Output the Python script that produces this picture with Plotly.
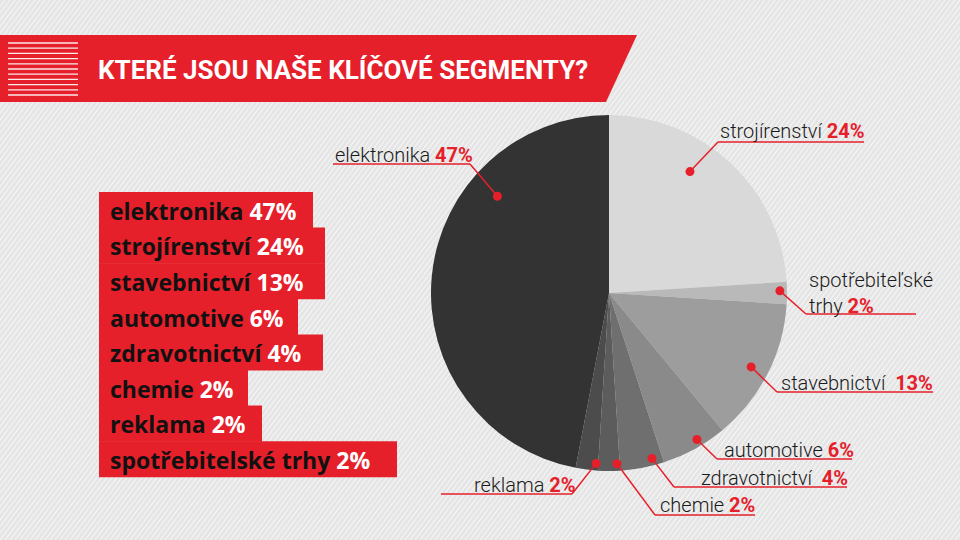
import math
import plotly.graph_objects as go

# ---------------- data ----------------
segments = ["strojírenství", "spotřebitelské trhy", "stavebnictví", "automotive",
            "zdravotnictví", "chemie", "reklama", "elektronika"]
shares = [24, 2, 13, 6, 4, 2, 2, 47]
slice_colors = ["#d9d9d9", "#b9b9b9", "#9d9d9d", "#8a8a8a",
                "#6f6f6f", "#5c5c5c", "#4c4c4c", "#333333"]

list_names = ["elektronika", "strojírenství", "stavebnictví", "automotive",
              "zdravotnictví", "chemie", "reklama", "spotřebitelské trhy"]
list_values = [47, 24, 13, 6, 4, 2, 2, 2]

title_text = "KTERÉ JSOU NAŠE KLÍČOVÉ SEGMENTY?"

RED = "#e5202a"
W, H = 960, 540


def px(x):
    return x / W


def py(y):
    return 1 - y / H


# ---------------- pie geometry ----------------
CX, CY, R = 609, 293, 178

fig = go.Figure()
fig.add_trace(go.Pie(
    labels=segments, values=shares, sort=False, direction="clockwise", rotation=0,
    marker=dict(colors=slice_colors, line=dict(width=0)),
    textinfo="none", hoverinfo="label+percent", showlegend=False,
    domain=dict(x=[px(CX - R), px(CX + R)], y=[py(CY + R), py(CY - R)]),
))

shapes = []
annotations = []

# background stripes
segs = []
step = 5
for k in range(-H, W + H, step):
    x0, y0 = k, H
    x1, y1 = k + H * 0.75, 0
    segs.append(f"M{px(x0):.5f},{py(y0):.5f}L{px(x1):.5f},{py(y1):.5f}")
shapes.append(dict(type="path", xref="paper", yref="paper", path="".join(segs),
                   line=dict(color="rgba(255,255,255,0.6)", width=1.2), layer="below"))

# header band
shapes.append(dict(type="path", xref="paper", yref="paper",
                   path=f"M{px(0)},{py(35)}L{px(637)},{py(35)}L{px(606)},{py(102)}L{px(0)},{py(102)}Z",
                   fillcolor=RED, line=dict(width=0), layer="below"))
# logo stripes
for i in range(11):
    yy = 43 + i * 5.2
    shapes.append(dict(type="line", xref="paper", yref="paper",
                       x0=px(8), x1=px(78), y0=py(yy), y1=py(yy),
                       line=dict(color="rgba(255,255,255,0.9)", width=1.3), layer="below"))
annotations.append(dict(x=px(96), y=py(70), xref="paper", yref="paper", xanchor="left", yanchor="middle",
                        text=f"<b>{title_text}</b>", showarrow=False,
                        font=dict(family="Roboto", size=26, color="white")))

# left list boxes
box_right = [313, 325, 325, 298, 323, 248, 262, 397]
top0, row_h = 192, 35.6
for i, (n, v) in enumerate(zip(list_names, list_values)):
    t = top0 + i * row_h
    shapes.append(dict(type="rect", xref="paper", yref="paper",
                       x0=px(99), x1=px(box_right[i]), y0=py(t), y1=py(t + row_h + 0.5),
                       fillcolor=RED, line=dict(width=0), layer="below"))
    annotations.append(dict(x=px(108), y=py(t + row_h / 2 + 1), xref="paper", yref="paper",
                            xanchor="left", yanchor="middle", showarrow=False,
                            text=f"<b>{n} <span style='color:white'>{v}%</span></b>",
                            font=dict(family="Open Sans", size=23, color="#111111")))

# right-side callouts
callouts = {
    "strojírenství": dict(text="strojírenství", tx=718, ty=131, ux0=718, ux1=864, uy=142, ex=718, af=0.39, rf=0.82),
    "spotřebitelské trhy": dict(text="spotřebiteľské<br>trhy", tx=807, ty=293, ux0=806, ux1=916, uy=314, ex=806, af=0.4, rf=0.96),
    "stavebnictví": dict(text="stavebnictví ", tx=779, ty=383, ux0=777, ux1=933, uy=392, ex=777, af=0.51, rf=0.9),
    "automotive": dict(text="automotive", tx=722, ty=450, ux0=717, ux1=852, uy=459, ex=717, af=0.4, rf=0.96),
    "zdravotnictví": dict(text="zdravotnictví ", tx=699, ty=478, ux0=674, ux1=847, uy=487, ex=674, af=0.24, rf=0.96),
    "chemie": dict(text="chemie", tx=658, ty=505, ux0=655, ux1=755, uy=515, ex=655, af=0.13, rf=0.96),
    "reklama": dict(text="reklama", tx=472, ty=485, ux0=441, ux1=572, uy=494, ex=572, af=0.1, rf=0.96),
    "elektronika": dict(text="elektronika", tx=333, ty=155, ux0=333, ux1=470, uy=164, ex=470, af=0.71, rf=0.83),
}

total = sum(shares)
start = 0.0
for name, val in zip(segments, shares):
    span = 360.0 * val / total
    c = callouts[name]
    ang = math.radians(start + c["af"] * span)
    dx = CX + c["rf"] * R * math.sin(ang)
    dy = CY - c["rf"] * R * math.cos(ang)
    start += span
    shapes.append(dict(type="line", xref="paper", yref="paper",
                       x0=px(c["ux0"]), x1=px(c["ux1"]), y0=py(c["uy"]), y1=py(c["uy"]),
                       line=dict(color=RED, width=1.5)))
    shapes.append(dict(type="line", xref="paper", yref="paper",
                       x0=px(dx), y0=py(dy), x1=px(c["ex"]), y1=py(c["uy"]),
                       line=dict(color=RED, width=1.5)))
    r = 4.5
    shapes.append(dict(type="circle", xref="paper", yref="paper",
                       x0=px(dx - r), x1=px(dx + r), y0=py(dy - r), y1=py(dy + r),
                       fillcolor=RED, line=dict(width=0)))
    annotations.append(dict(x=px(c["tx"]), y=py(c["ty"]), xref="paper", yref="paper",
                            xanchor="left", yanchor="middle", showarrow=False, align="left",
                            text=f"{c['text']} <b><span style='color:{RED}'>{val}%</span></b>",
                            font=dict(family="Roboto", size=20, weight=300, color="#1a1a1a")))

fig.update_layout(
    width=W, height=H, margin=dict(l=0, r=0, t=0, b=0),
    paper_bgcolor="#e5e5e5", plot_bgcolor="rgba(0,0,0,0)",
    shapes=shapes, annotations=annotations,
)
fig.write_html("out.html")
